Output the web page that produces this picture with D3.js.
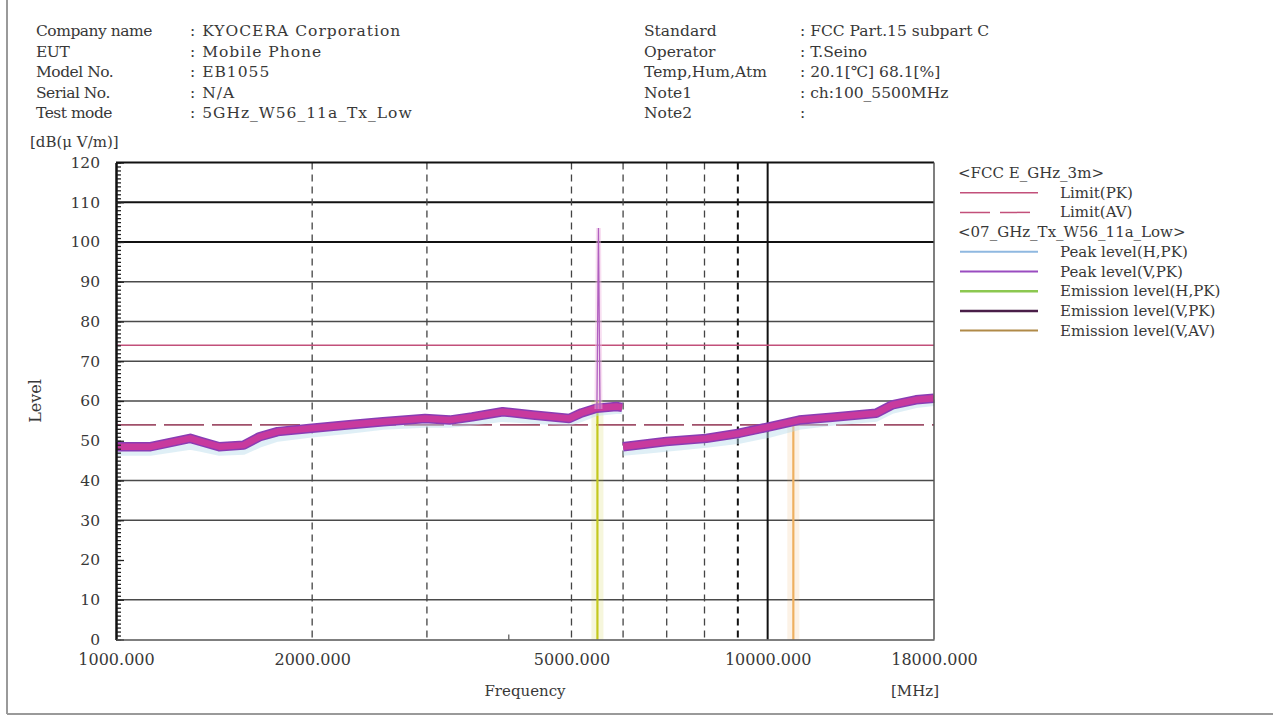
<!DOCTYPE html>
<html>
<head>
<meta charset="utf-8">
<script src="https://cdn.jsdelivr.net/npm/d3@7"></script>
<style>
  body { margin: 0; background: #fff; }
  svg text { font-family: "DejaVu Serif", "Liberation Serif", serif; fill: #383838; }
</style>
</head>
<body>
<svg id="chart" width="1273" height="718"></svg>
<script>
// header text
var infoLeft = [["Company name", ": KYOCERA Corporation"], ["EUT", ": Mobile Phone"],
    ["Model No.", ": EB1055"], ["Serial No.", ": N/A"], ["Test mode", ": 5GHz_W56_11a_Tx_Low"]];
var infoRight = [["Standard", ": FCC Part.15 subpart C"], ["Operator", ": T.Seino"],
    ["Temp,Hum,Atm", ": 20.1[\u2103] 68.1[%]"], ["Note1", ": ch:100_5500MHz"], ["Note2", ":"]];

// axis ticks
var xTickLabels = [1000, 2000, 5000, 10000, 18000];
var xDashed = [2000, 3000, 5000, 6000, 7000, 8000, 9000];
var xSolid = [10000];
var xMinor = [4000];
var yLabels = [0, 10, 20, 30, 40, 50, 60, 70, 80, 90, 100, 110, 120];
var yGrid = [10, 30, 40, 60, 70, 80, 90];
var yGridBold = [100, 110];

// limits
var limitPK = 74;
var limitAV = 54;

// measured traces (MHz, dBuV/m)
var freqLow = [1000, 1130, 1300, 1350, 1440, 1570, 1660, 1770, 1980, 2280, 2570, 2980, 3250, 3520, 3920, 4360, 4960, 5180, 5460, 5860, 5980];
var levelVLow = [48.5, 48.5, 50.6, 49.8, 48.5, 48.9, 51.0, 52.3, 53.1, 54.0, 54.8, 55.6, 55.2, 56.0, 57.3, 56.5, 55.6, 57.0, 58.2, 58.6, 58.4];
var levelHLow = [47.0, 47.0, 48.5, 48.0, 47.0, 47.2, 49.0, 50.5, 51.5, 52.5, 53.5, 54.0, 54.0, 54.5, 55.5, 55.0, 54.5, 55.5, 57.0, 57.5, 57.5];
var freqHigh = [6000, 6500, 6990, 8050, 9050, 10050, 11180, 12560, 14670, 15520, 16890, 18000];
var levelVHigh = [48.5, 49.2, 49.8, 50.6, 51.9, 53.5, 55.2, 55.9, 56.9, 59.0, 60.3, 60.7];
var levelHHigh = [47.0, 47.5, 48.0, 49.0, 50.0, 51.5, 53.5, 54.5, 55.5, 57.5, 59.0, 59.5];
var spikeFreq = [5470, 5500, 5530];
var spikeLevel = [58.0, 103.5, 58.0];

// emission markers
var markerFreq = [5480, 10950];
var markerLevel = [60, 56];
var markerColor = ["#c4c81e", "#eeb060"];

// legend
var legendItems = [
    {label: "<FCC E_GHz_3m>", head: true},
    {label: "Limit(PK)", color: "#c2507a", dash: null, w: 1.5},
    {label: "Limit(AV)", color: "#c2507a", dash: "30,10", w: 1.5},
    {label: "<07_GHz_Tx_W56_11a_Low>", head: true},
    {label: "Peak level(H,PK)", color: "#8fb8e0", dash: null, w: 2},
    {label: "Peak level(V,PK)", color: "#9a4cc0", dash: null, w: 2},
    {label: "Emission level(H,PK)", color: "#8cc850", dash: null, w: 2.5},
    {label: "Emission level(V,PK)", color: "#4a1e48", dash: null, w: 2.5},
    {label: "Emission level(V,AV)", color: "#b08a48", dash: null, w: 2}
];

var svg = d3.select("#chart");
var pLeft = 116, pRight = 934, pTop = 162.5, pBottom = 639.5;

var x = d3.scaleLog().domain([1000, 18000]).range([pLeft, pRight]);
var y = d3.scaleLinear().domain([0, 120]).range([pBottom, pTop]);

// page frame
svg.append("line").attr("x1", 7).attr("x2", 7).attr("y1", 0).attr("y2", 714)
    .attr("stroke", "#9a9a9a").attr("stroke-width", 2);
svg.append("line").attr("x1", 7).attr("x2", 1273).attr("y1", 714).attr("y2", 714)
    .attr("stroke", "#9a9a9a").attr("stroke-width", 2);

// header
function header(rows, x0, x1, lsLabel, lsValue) {
    var g = svg.append("g").style("font-size", "15.5px");
    rows.forEach(function(r, i) {
        var yy = 36 + i * 20.5;
        g.append("text").attr("x", x0).attr("y", yy).style("letter-spacing", lsLabel + "px").text(r[0]);
        g.append("text").attr("x", x1).attr("y", yy).style("letter-spacing", lsValue + "px").text(r[1]);
    });
}
header(infoLeft, 36, 190, -0.5, 1);
header(infoRight, 644, 800, 0, 0);

svg.append("text").attr("x", 30).attr("y", 147).style("font-size", "15px").text("[dB(\u03bc V/m)]");

// grid
var grid = svg.append("g");
grid.selectAll(".hg").data(yGrid).enter().append("line")
    .attr("x1", pLeft).attr("x2", pRight)
    .attr("y1", function(d) { return y(d); }).attr("y2", function(d) { return y(d); })
    .attr("stroke", "#4a4a4a").attr("stroke-width", 1.4);
grid.selectAll(".hgb").data(yGridBold).enter().append("line")
    .attr("x1", pLeft).attr("x2", pRight)
    .attr("y1", function(d) { return y(d); }).attr("y2", function(d) { return y(d); })
    .attr("stroke", "#111").attr("stroke-width", 2);
grid.selectAll(".vg").data(xDashed).enter().append("line")
    .attr("x1", function(d) { return x(d); }).attr("x2", function(d) { return x(d); })
    .attr("y1", pTop).attr("y2", pBottom)
    .attr("stroke", function(d) { return d === 9000 ? "#111" : "#444"; })
    .attr("stroke-width", function(d) { return d === 9000 ? 2 : 1.3; })
    .attr("stroke-dasharray", "7,5");
grid.selectAll(".vs").data(xSolid).enter().append("line")
    .attr("x1", function(d) { return x(d); }).attr("x2", function(d) { return x(d); })
    .attr("y1", pTop).attr("y2", pBottom)
    .attr("stroke", "#111").attr("stroke-width", 2);

// limits
svg.append("line").attr("x1", pLeft).attr("x2", pRight).attr("y1", y(limitPK)).attr("y2", y(limitPK))
    .attr("stroke", "#c2507a").attr("stroke-width", 1.5);
svg.append("line").attr("x1", pLeft).attr("x2", pRight).attr("y1", y(limitAV)).attr("y2", y(limitAV))
    .attr("stroke", "#a0506a").attr("stroke-width", 1.6).attr("stroke-dasharray", "40,8");

// emission markers
markerFreq.forEach(function(f, i) {
    svg.append("line").attr("x1", x(f)).attr("x2", x(f)).attr("y1", pBottom).attr("y2", y(markerLevel[i]))
        .attr("stroke", markerColor[i]).attr("stroke-width", 12).attr("opacity", 0.15);
    svg.append("line").attr("x1", x(f)).attr("x2", x(f)).attr("y1", pBottom).attr("y2", y(markerLevel[i]))
        .attr("stroke", markerColor[i]).attr("stroke-width", 2.2);
});

var line = d3.line()
    .x(function(d) { return x(d[0]); })
    .y(function(d) { return y(d[1]); });

var lowV = d3.zip(freqLow, levelVLow), highV = d3.zip(freqHigh, levelVHigh);
var lowH = d3.zip(freqLow, levelHLow), highH = d3.zip(freqHigh, levelHHigh);

// horizontal polarisation (faint)
[lowH, highH].forEach(function(seg) {
    svg.append("path").datum(seg).attr("d", line).attr("fill", "none")
        .attr("stroke", "#b8dcec").attr("stroke-width", 6).attr("opacity", 0.45);
});

// vertical polarisation band
[lowV, highV].forEach(function(seg) {
    svg.append("path").datum(seg).attr("d", line).attr("fill", "none")
        .attr("stroke", "#8a3cb4").attr("stroke-width", 9.5).attr("stroke-linejoin", "round");
    svg.append("path").datum(seg).attr("d", line).attr("fill", "none")
        .attr("stroke", "#c83a9e").attr("stroke-width", 6.5).attr("stroke-linejoin", "round");
});

// peak spike
var spike = d3.zip(spikeFreq, spikeLevel);
svg.append("path").datum(spike).attr("d", line).attr("fill", "none")
    .attr("stroke", "#f0b8e0").attr("stroke-width", 5).attr("opacity", 0.45);
svg.append("path").datum(spike).attr("d", line).attr("fill", "none")
    .attr("stroke", "#b060c0").attr("stroke-width", 1.3);

// axes
var yMinor = svg.append("g").attr("transform", "translate(" + pLeft + ",0)")
    .call(d3.axisLeft(y).tickValues(d3.range(0, 121, 1)).tickSizeInner(-5).tickSizeOuter(0).tickFormat(""));
var yMajor = svg.append("g").attr("transform", "translate(" + pLeft + ",0)")
    .call(d3.axisLeft(y).tickValues(yLabels).tickSizeInner(-8).tickSizeOuter(0).tickPadding(16));
[yMinor, yMajor].forEach(function(g) {
    g.select(".domain").attr("stroke", "#111").attr("stroke-width", 2);
    g.selectAll(".tick line").attr("stroke", "#222").attr("stroke-width", 1.3);
});
yMajor.selectAll("text").style("font-size", "15.5px").attr("fill", "#383838");

var xAxis = svg.append("g").attr("transform", "translate(0," + pBottom + ")")
    .call(d3.axisBottom(x).tickValues(xTickLabels).tickSize(0).tickPadding(14).tickFormat(d3.format(".3f")));
xAxis.select(".domain").attr("stroke", "#555").attr("stroke-width", 1.5);
xAxis.selectAll("text").style("font-size", "16px").attr("fill", "#383838");
svg.append("g").attr("transform", "translate(0," + pBottom + ")")
    .call(d3.axisBottom(x).tickValues(xMinor).tickSizeInner(-5).tickSizeOuter(0).tickFormat(""))
    .call(function(g) { g.select(".domain").remove(); g.selectAll("line").attr("stroke", "#333"); });

// frame
svg.append("line").attr("x1", pLeft).attr("x2", pRight).attr("y1", pTop).attr("y2", pTop)
    .attr("stroke", "#111").attr("stroke-width", 2);
svg.append("line").attr("x1", pRight).attr("x2", pRight).attr("y1", pTop).attr("y2", pBottom)
    .attr("stroke", "#555").attr("stroke-width", 1.5);

// axis titles
svg.append("text").attr("transform", "translate(41,401) rotate(-90)")
    .attr("text-anchor", "middle").style("font-size", "16px").text("Level");
svg.append("text").attr("x", 525).attr("y", 696).attr("text-anchor", "middle")
    .style("font-size", "15px").text("Frequency");
svg.append("text").attr("x", 915).attr("y", 696).attr("text-anchor", "middle")
    .style("font-size", "15px").text("[MHz]");

// legend
var lg = svg.append("g").style("font-size", "15px");
legendItems.forEach(function(d, i) {
    var yy = 173 + i * 19.7;
    if (d.head) {
        lg.append("text").attr("x", 958).attr("y", yy + 5).text(d.label);
    } else {
        lg.append("line").attr("x1", 960).attr("x2", 1038).attr("y1", yy).attr("y2", yy)
            .attr("stroke", d.color).attr("stroke-width", d.w)
            .attr("stroke-dasharray", d.dash);
        lg.append("text").attr("x", 1060).attr("y", yy + 5).text(d.label);
    }
});
</script>
</body>
</html>
